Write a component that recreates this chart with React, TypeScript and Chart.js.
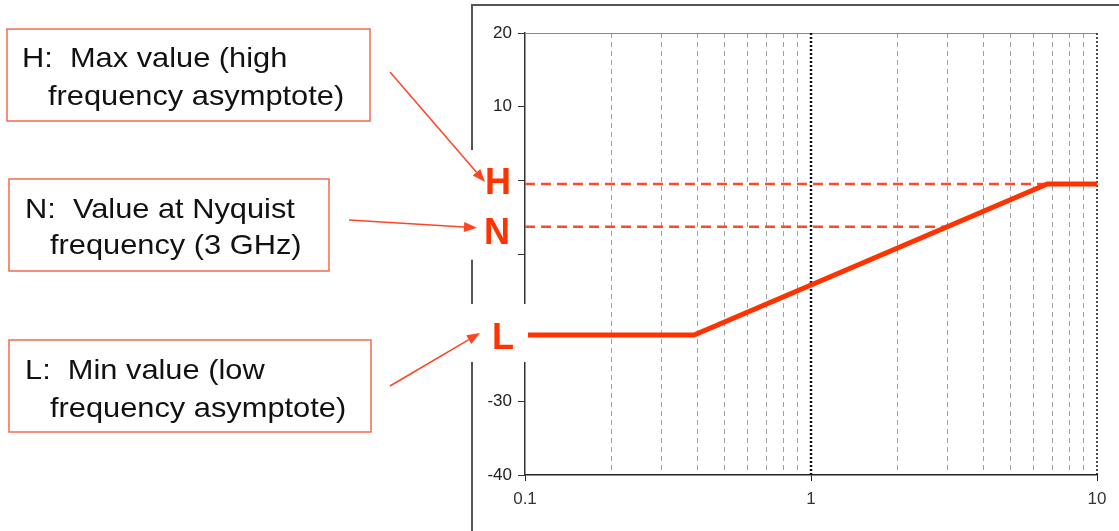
import React, { useEffect, useRef } from "react";
import { Chart, registerables } from "chart.js";

Chart.register(...registerables);

// ---- data ----
const FREQ_GHZ = [0.1, 0.39, 6.7, 10];
const RESPONSE_DB = [-21, -21, -0.5, -0.5];
const H_VALUE = -0.5;
const N_VALUE = -6.3;
const L_VALUE = -21;
const NYQUIST_GHZ = 3;
const HIGH_KNEE_GHZ = 6.7;
const X_MIN = 0.1;
const X_MAX = 10;
const Y_MIN = -40;
const Y_MAX = 20;
const X_GRID = [0.1, 0.2, 0.3, 0.4, 0.5, 0.6, 0.7, 0.8, 0.9, 1, 2, 3, 4, 5, 6, 7, 8, 9, 10];
const X_LABELS = [0.1, 1, 10];
const X_DOTTED = [1, 10];
const Y_LABELS = [20, 10, -30, -40];
const H_BOX_LINES = ["H:  Max value (high", "frequency asymptote)"];
const N_BOX_LINES = ["N:  Value at Nyquist", "frequency (3 GHz)"];
const L_BOX_LINES = ["L:  Min value (low", "frequency asymptote)"];

const W = 1119;
const H = 531;
const FONT = '"Liberation Sans", Arial, sans-serif';
const RED = "#ff3300";

function arrow(ctx: CanvasRenderingContext2D, x1: number, y1: number, x2: number, y2: number) {
  const ang = Math.atan2(y2 - y1, x2 - x1);
  const len = 13;
  const half = 5;
  const bx = x2 - len * Math.cos(ang);
  const by = y2 - len * Math.sin(ang);
  ctx.save();
  ctx.strokeStyle = "#ff4422";
  ctx.fillStyle = "#ff4422";
  ctx.lineWidth = 1.5;
  ctx.beginPath();
  ctx.moveTo(x1, y1);
  ctx.lineTo(bx, by);
  ctx.stroke();
  ctx.beginPath();
  ctx.moveTo(x2, y2);
  ctx.lineTo(bx + half * Math.sin(ang), by - half * Math.cos(ang));
  ctx.lineTo(bx - half * Math.sin(ang), by + half * Math.cos(ang));
  ctx.closePath();
  ctx.fill();
  ctx.restore();
}

function textBox(
  ctx: CanvasRenderingContext2D,
  lines: string[],
  bx: number,
  by: number,
  bw: number,
  bh: number,
  tx1: number,
  ty1: number,
  tx2: number,
  ty2: number
) {
  ctx.save();
  ctx.fillStyle = "#ffffff";
  ctx.fillRect(bx, by, bw, bh);
  ctx.strokeStyle = "#f26a4f";
  ctx.lineWidth = 1.5;
  ctx.strokeRect(bx, by, bw, bh);
  ctx.fillStyle = "#111111";
  ctx.font = `28px ${FONT}`;
  ctx.textAlign = "left";
  ctx.textBaseline = "alphabetic";
  ctx.save();
  ctx.translate(tx1, ty1);
  ctx.scale(1.1, 1);
  ctx.fillText(lines[0], 0, 0);
  ctx.restore();
  ctx.save();
  ctx.translate(tx2, ty2);
  ctx.scale(1.1, 1);
  ctx.fillText(lines[1], 0, 0);
  ctx.restore();
  ctx.restore();
}

const decorPlugin = {
  id: "decor",
  beforeDatasetsDraw(chart: any) {
    const { ctx, chartArea, scales } = chart;
    const x = scales.x;
    ctx.save();
    // top border of plot area
    ctx.strokeStyle = "#8a8a8a";
    ctx.lineWidth = 1;
    ctx.beginPath();
    ctx.moveTo(chartArea.left, chartArea.top + 0.5);
    ctx.lineTo(chartArea.right, chartArea.top + 0.5);
    ctx.stroke();
    // dotted major lines
    ctx.strokeStyle = "#111111";
    X_DOTTED.forEach((v, i) => {
      const px = Math.round(x.getPixelForValue(v));
      ctx.lineWidth = i === 0 ? 2.5 : 1.5;
      ctx.setLineDash([2, 2]);
      ctx.beginPath();
      ctx.moveTo(px, chartArea.top);
      ctx.lineTo(px, chartArea.bottom);
      ctx.stroke();
    });
    ctx.restore();
  },
  afterDraw(chart: any) {
    const { ctx, chartArea, scales } = chart;
    const y = scales.y;
    const left = chartArea.left;
    ctx.save();
    // outer frame
    ctx.strokeStyle = "#555555";
    ctx.lineWidth = 2;
    ctx.beginPath();
    ctx.moveTo(W, 5);
    ctx.lineTo(left - 53, 5);
    ctx.lineTo(left - 53, H);
    ctx.stroke();

    const hy = y.getPixelForValue(H_VALUE) - 2;
    const ny = y.getPixelForValue(N_VALUE) + 5;
    const ly = y.getPixelForValue(L_VALUE) + 2;
    const hx = left - 27;
    const nx = left - 28;
    const lx = left - 22;

    // white backing behind letters
    ctx.fillStyle = "#ffffff";
    ctx.fillRect(left - 62, hy - 32, 52, ny + 28 - (hy - 32));
    ctx.fillRect(left - 62, ly - 33, 65, 58);

    ctx.fillStyle = RED;
    ctx.font = `bold 36px ${FONT}`;
    ctx.textAlign = "center";
    ctx.textBaseline = "middle";
    ctx.fillText("H", hx, hy + 2);
    ctx.fillText("N", nx, ny + 2);
    ctx.fillText("L", lx, ly + 2);
    ctx.restore();

    textBox(ctx, H_BOX_LINES, 7, 29, 363, 92, 22, 67, 48, 105);
    textBox(ctx, N_BOX_LINES, 9, 179, 320, 92, 25, 218, 50, 254);
    textBox(ctx, L_BOX_LINES, 9, 340, 362, 92, 25, 379, 50, 417);

    arrow(ctx, 390, 72, hx - 13, hy);
    arrow(ctx, 349, 220, nx - 20, ny - 4);
    arrow(ctx, 390, 386, lx - 23, ly - 4);
  },
};

export default function App() {
  const ref = useRef<HTMLCanvasElement | null>(null);

  useEffect(() => {
    document.body.style.margin = "0";
    const canvas = ref.current;
    if (!canvas) return;
    const chart = new Chart(canvas, {
      type: "line",
      data: {
        datasets: [
          {
            label: "Response",
            data: FREQ_GHZ.map((f, i) => ({ x: f, y: RESPONSE_DB[i] })),
            borderColor: RED,
            borderWidth: 5,
            pointRadius: 0,
            tension: 0,
            borderJoinStyle: "miter",
          },
          {
            label: "H",
            data: [
              { x: X_MIN, y: H_VALUE },
              { x: HIGH_KNEE_GHZ, y: H_VALUE },
            ],
            borderColor: "#ff4a2a",
            borderWidth: 2.5,
            borderDash: [10, 6],
            pointRadius: 0,
          },
          {
            label: "N",
            data: [
              { x: X_MIN, y: N_VALUE },
              { x: NYQUIST_GHZ, y: N_VALUE },
            ],
            borderColor: "#ff4a2a",
            borderWidth: 2.5,
            borderDash: [10, 6],
            pointRadius: 0,
          },
        ],
      },
      options: {
        animation: false,
        responsive: false,
        maintainAspectRatio: false,
        layout: { padding: { left: 0, top: 33, right: 22, bottom: 0 } },
        plugins: {
          legend: { display: false },
          tooltip: { enabled: false },
          title: { display: false },
        },
        scales: {
          x: {
            type: "logarithmic",
            min: X_MIN,
            max: X_MAX,
            afterBuildTicks: (s: any) => {
              s.ticks = X_GRID.map((v) => ({ value: v }));
            },
            afterFit: (s: any) => {
              s.height = 56;
            },
            ticks: {
              autoSkip: false,
              maxRotation: 0,
              padding: 8,
              color: "#333333",
              font: { family: FONT, size: 17 },
              callback: (v: any) => (X_LABELS.includes(Number(v)) ? String(v) : ""),
            },
            grid: {
              drawOnChartArea: true,
              drawTicks: true,
              tickLength: 6,
              lineWidth: 1,
              color: (c: any) =>
                X_LABELS.includes(c.tick?.value) ? "rgba(0,0,0,0)" : "#a0a0a0",
              tickColor: (c: any) =>
                X_LABELS.includes(c.tick?.value) ? "#222222" : "rgba(0,0,0,0)",
            },
            border: { display: true, color: "#222222", width: 1.5, dash: [5, 4] },
          },
          y: {
            type: "linear",
            min: Y_MIN,
            max: Y_MAX,
            afterFit: (s: any) => {
              s.width = 525;
            },
            ticks: {
              stepSize: 10,
              padding: 6,
              color: "#222222",
              font: { family: FONT, size: 17 },
              callback: (v: any) => (Y_LABELS.includes(Number(v)) ? String(v) : ""),
            },
            grid: {
              drawOnChartArea: false,
              drawTicks: true,
              tickLength: 7,
              tickColor: "#333333",
            },
            border: { display: true, color: "#333333", width: 1.5 },
          },
        },
      },
      plugins: [decorPlugin],
    } as any);
    return () => chart.destroy();
  }, []);

  return <canvas ref={ref} width={W} height={H} style={{ display: "block" }} />;
}
